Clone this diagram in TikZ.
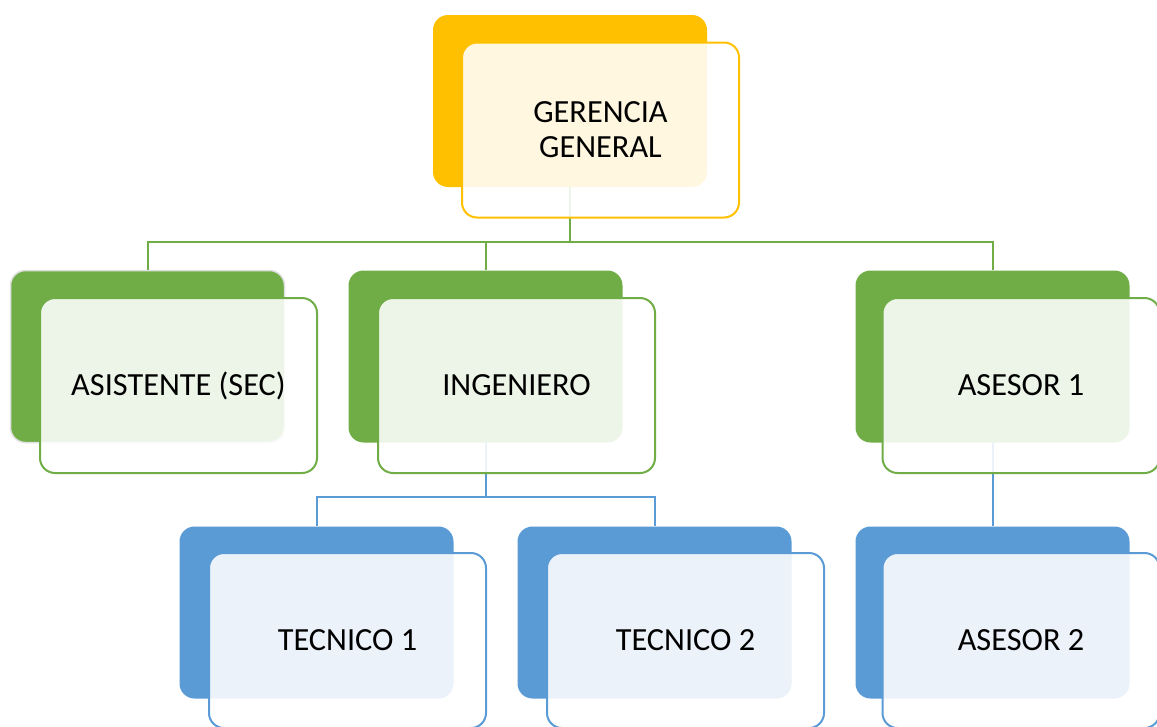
\documentclass[tikz,border=0pt]{standalone}
\usepackage{fontspec}
\setmainfont{Carlito}
\definecolor{gold}{HTML}{FFC000}
\definecolor{grn}{HTML}{70AD47}
\definecolor{blu}{HTML}{5B9BD5}
\begin{document}
\begin{tikzpicture}[x=1pt,y=-1pt]
\useasboundingbox (0,0) rectangle (1157,726);
\tikzset{
 backbox/.style={rectangle, rounded corners=15pt, minimum width=274pt, minimum height=172pt, inner sep=0pt, fill=#1},
 frontbox/.style={rectangle, rounded corners=15pt, minimum width=277pt, minimum height=175pt, inner sep=0pt, draw=#1, line width=2pt, fill=white, fill opacity=0.88, text opacity=1, font=\fontsize{32.3}{35}\selectfont, align=center},
 link/.style={draw=#1, line width=2pt}
}
% back boxes
\node[backbox=gold] (gb) at (570,101) {};
\node[backbox=grn, draw=black!12, line width=1.5pt] (ab) at (147.5,356.5) {};
\node[backbox=grn] (ib) at (485.5,356.5) {};
\node[backbox=grn] (a1b) at (992.5,356.5) {};
\node[backbox=blu] (t1b) at (316.5,612.5) {};
\node[backbox=blu] (t2b) at (654.5,612.5) {};
\node[backbox=blu] (a2b) at (992.5,612.5) {};
% connectors
\coordinate (j1) at (570,242);
\coordinate (j2) at (485.5,497);
\draw[link=grn] (gb.south) -- (j1);
\draw[link=grn] (j1) -| (ab.north);
\draw[link=grn] (j1) -| (ib.north);
\draw[link=grn] (j1) -| (a1b.north);
\draw[link=blu] (ib.south) -- (j2);
\draw[link=blu] (j2) -| (t1b.north);
\draw[link=blu] (j2) -| (t2b.north);
\draw[link=blu] (a1b.south) -- (a2b.north);
% front boxes
\node[frontbox=gold] (gf) at (600.5,130) {GERENCIA\\GENERAL};
\node[frontbox=grn] (af) at (178.5,385.5) {ASISTENTE (SEC)};
\node[frontbox=grn] (inf) at (516.5,385.5) {INGENIERO};
\node[frontbox=grn] (a1f) at (1021,385.5) {ASESOR 1};
\node[frontbox=blu] (t1f) at (347.5,640.5) {TECNICO 1};
\node[frontbox=blu] (t2f) at (685.5,640.5) {TECNICO 2};
\node[frontbox=blu] (a2f) at (1021,640.5) {ASESOR 2};
\end{tikzpicture}
\end{document}
